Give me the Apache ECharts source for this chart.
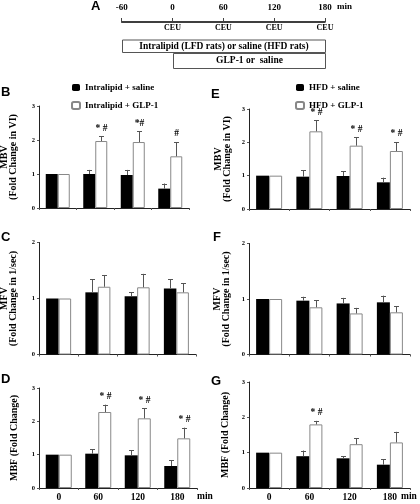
<!DOCTYPE html>
<html><head><meta charset="utf-8">
<script src="https://cdn.jsdelivr.net/npm/echarts@6/dist/echarts.min.js"></script>
<style>html,body{margin:0;padding:0;background:#fff}#c{width:420px;height:504px}</style>
</head><body><div id="c"></div>
<script>
// ---------- DATA ----------
const categories = ['0', '60', '120', '180'];

// Panel A timeline
const timelineTicks = [-60, 0, 60, 120, 180];
const ceuTimes = [0, 60, 120, 180];
const infusionLabels = ['Intralipid (LFD rats) or saline (HFD rats)', 'GLP-1 or  saline'];
const infusionStart = [-60, 0];
const infusionEnd = [180, 180];

// Panel B: MBV, Intralipid
const B_saline = [1.0, 1.0, 0.97, 0.57];
const B_saline_sem = [0, 0.12, 0.15, 0.15];
const B_glp = [1.0, 1.97, 1.94, 1.52];
const B_glp_sem = [0, 0.14, 0.32, 0.42];
const B_ann = ['', '* #', '*#', '#'];

// Panel C: MFV, Intralipid
const C_saline = [1.0, 1.11, 1.04, 1.18];
const C_saline_sem = [0, 0.23, 0.07, 0.16];
const C_glp = [1.0, 1.21, 1.20, 1.11];
const C_glp_sem = [0, 0.21, 0.24, 0.16];
const C_ann = ['', '', '', ''];

// Panel D: MBF, Intralipid
const D_saline = [1.0, 1.03, 0.98, 0.66];
const D_saline_sem = [0, 0.13, 0.15, 0.17];
const D_glp = [1.0, 2.28, 2.09, 1.49];
const D_glp_sem = [0, 0.22, 0.30, 0.32];
const D_ann = ['', '* #', '* #', '* #'];

// Panel E: MBV, HFD
const E_saline = [1.0, 0.97, 0.99, 0.80];
const E_saline_sem = [0, 0.19, 0.14, 0.14];
const E_glp = [1.0, 2.33, 1.90, 1.74];
const E_glp_sem = [0, 0.33, 0.25, 0.27];
const E_ann = ['', '* #', '* #', '* #'];

// Panel F: MFV, HFD
const F_saline = [1.0, 0.97, 0.92, 0.94];
const F_saline_sem = [0, 0.07, 0.10, 0.12];
const F_glp = [1.0, 0.85, 0.74, 0.76];
const F_glp_sem = [0, 0.13, 0.10, 0.11];
const F_ann = ['', '', '', ''];

// Panel G: MBF, HFD
const G_saline = [1.0, 0.90, 0.84, 0.66];
const G_saline_sem = [0, 0.16, 0.06, 0.16];
const G_glp = [1.0, 1.80, 1.24, 1.29];
const G_glp_sem = [0, 0.10, 0.17, 0.30];
const G_ann = ['', '* #', '', ''];

const yTicksMBV = [0, 1, 2, 3];
const yTicksMFV = [0, 1, 2];

// ---------- LAYOUT / STYLE ----------
const SERIF = 'Liberation Serif';
const SANS = 'Liberation Sans';

const panels = [
  {key:'B', left:39, top:106, width:150, height:102, barW:12, max:3, name:'MBV\n(Fold Change in VI)', gap:21, grp:'L',
   s:B_saline, ss:B_saline_sem, g:B_glp, gs:B_glp_sem, ann:B_ann, xl:false},
  {key:'C', left:39, top:242.5, width:157, height:112, barW:12.5, max:2, name:'MFV\n(Fold Change in 1/sec)', gap:21, grp:'L',
   s:C_saline, ss:C_saline_sem, g:C_glp, gs:C_glp_sem, ann:C_ann, xl:false},
  {key:'D', left:39, top:388, width:158, height:100, barW:13, max:3, name:'MBF (Fold Change)', gap:20, grp:'L',
   s:D_saline, ss:D_saline_sem, g:D_glp, gs:D_glp_sem, ann:D_ann, xl:true},
  {key:'E', left:249, top:109, width:161, height:100, barW:13, max:3, name:'MBV\n(Fold Change in VI)', gap:17, grp:'H',
   s:E_saline, ss:E_saline_sem, g:E_glp, gs:E_glp_sem, ann:E_ann, xl:false},
  {key:'F', left:249, top:243.5, width:161, height:111, barW:13, max:2, name:'MFV\n(Fold Change in 1/sec)', gap:18, grp:'H',
   s:F_saline, ss:F_saline_sem, g:F_glp, gs:F_glp_sem, ann:F_ann, xl:false},
  {key:'G', left:249, top:382, width:161, height:106, barW:13, max:3, name:'MBF (Fold Change)', gap:19, grp:'H',
   s:G_saline, ss:G_saline_sem, g:G_glp, gs:G_glp_sem, ann:G_ann, xl:true}
];

const names = {
  L: ['Intralipid + saline', 'Intralipid + GLP-1'],
  H: ['HFD + saline', 'HFD + GLP-1']
};

const grids = [], xAxes = [], yAxes = [], series = [];

function errRender(sign, barW, ann) {
  return function (params, api) {
    const i = api.value(0), m = api.value(1), s = api.value(2);
    const base = api.coord([i, m]);
    const top = api.coord([i, m + s]);
    const x = Math.round(base[0] + sign * barW / 2) + 0.5;
    const ch = [];
    if (s > 0) {
      ch.push({type:'line', shape:{x1:x, y1:base[1], x2:x, y2:top[1]}, style:{stroke:'#555', lineWidth:1}});
      ch.push({type:'line', shape:{x1:x-2.5, y1:Math.round(top[1])+0.5, x2:x+2.5, y2:Math.round(top[1])+0.5}, style:{stroke:'#555', lineWidth:1}});
    }
    const a = ann[params.dataIndex];
    if (a) {
      ch.push({type:'text', x:x, y:top[1]-3, style:{text:a, fill:'#000', font:'bold 9.5px "' + SERIF + '"', align:'center', verticalAlign:'bottom'}});
    }
    return {type:'group', children:ch};
  };
}

panels.forEach((p, k) => {
  grids.push({left:p.left, top:p.top, width:p.width, height:p.height, outerBoundsMode:'none', containLabel:false});
  xAxes.push({
    type:'category', gridIndex:k, data:categories,
    axisLine:{lineStyle:{color:'#222', width:1}},
    axisTick:{show:true, length:2, lineStyle:{color:'#555'}},
    axisLabel:{show:p.xl, color:'#000', fontFamily:SERIF, fontWeight:'bold', fontSize:9.5, margin:5}
  });
  const ticks = p.max === 3 ? yTicksMBV : yTicksMFV;
  yAxes.push({
    type:'value', gridIndex:k, min:ticks[0], max:ticks[ticks.length-1], interval:1,
    name:p.name, nameLocation:'middle', nameGap:p.gap, nameRotate:90,
    nameTextStyle:{color:'#000', fontFamily:SERIF, fontWeight:'bold', fontSize:10, lineHeight:9},
    axisLine:{show:true, lineStyle:{color:'#222', width:1}},
    axisTick:{show:true, length:2, lineStyle:{color:'#555'}},
    axisLabel:{color:'#000', fontFamily:SERIF, fontWeight:'bold', fontSize:6.5, margin:4},
    splitLine:{show:false}
  });
  const nm = names[p.grp];
  series.push({
    name:nm[0], type:'bar', xAxisIndex:k, yAxisIndex:k, data:p.s, barWidth:p.barW, barGap:'0%',
    itemStyle:{color:'#000'}, animation:false, silent:true
  });
  series.push({
    name:nm[1], type:'bar', xAxisIndex:k, yAxisIndex:k, data:p.g, barWidth:p.barW, barGap:'0%',
    itemStyle:{color:'#fff', borderColor:'#888', borderWidth:1}, animation:false, silent:true
  });
  series.push({
    type:'custom', xAxisIndex:k, yAxisIndex:k, renderItem:errRender(-1, p.barW, ['', '', '', '']),
    data:p.s.map((v, i) => [i, v, p.ss[i]]), animation:false, silent:true, z:3
  });
  series.push({
    type:'custom', xAxisIndex:k, yAxisIndex:k, renderItem:errRender(1, p.barW, p.ann),
    data:p.g.map((v, i) => [i, v, p.gs[i]]), animation:false, silent:true, z:3
  });
});

// ---- Timeline panel A ----
const tIdx = panels.length;
grids.push({left:121.7, top:22, width:203.3, height:47, outerBoundsMode:'none', containLabel:false});
xAxes.push({
  type:'value', gridIndex:tIdx, position:'top', min:-60, max:180, interval:60,
  axisLine:{show:true, lineStyle:{color:'#000', width:1.5}},
  axisTick:{show:true, length:4, lineStyle:{color:'#444'}},
  axisLabel:{color:'#000', fontFamily:SERIF, fontWeight:'bold', fontSize:9, margin:10,
             customValues:timelineTicks},
  splitLine:{show:false}
});
yAxes.push({type:'category', gridIndex:tIdx, data:['CEU'].concat(infusionLabels), inverse:true, show:false});
series.push({
  type:'custom', xAxisIndex:tIdx, yAxisIndex:tIdx, animation:false, silent:true,
  data:ceuTimes.map(t => [t, 0]),
  renderItem:function (params, api) {
    const c = api.coord([api.value(0), api.value(1)]);
    return {type:'text', x:c[0], y:c[1]-1.5, style:{text:'CEU', fill:'#000', font:'bold 8px "' + SERIF + '"', align:'center', verticalAlign:'middle'}};
  }
});
series.push({
  type:'custom', xAxisIndex:tIdx, yAxisIndex:tIdx, animation:false, silent:true,
  data:infusionLabels.map((l, i) => [infusionStart[i], infusionEnd[i], i + 1]),
  renderItem:function (params, api) {
    const row = api.value(2);
    const a = api.coord([api.value(0), row]);
    const b = api.coord([api.value(1), row]);
    const h = api.size([0, 1])[1];
    const y0 = Math.round(a[1] - h / 2) + 0.5 + (row === 1 ? 1.5 : 0);
    const y1 = Math.round(a[1] + h / 2) - 0.5;
    const x0 = Math.round(a[0]) + 0.5, x1 = Math.round(b[0]) + 0.5;
    return {type:'group', children:[
      {type:'rect', shape:{x:x0, y:y0, width:x1-x0, height:y1-y0}, style:{fill:'#fff', stroke:'#555', lineWidth:1}},
      {type:'text', x:(x0+x1)/2, y:(y0+y1)/2, style:{text:infusionLabels[params.dataIndex], fill:'#000', font:'bold 9.5px "' + SERIF + '"', align:'center', verticalAlign:'middle'}}
    ]};
  }
});

const letterStyle = {color:'#000', fontFamily:SANS, fontWeight:'bold', fontSize:13};
const titles = [
  ['A', 91, 0], ['B', 1, 86], ['C', 1, 231], ['D', 1, 373],
  ['E', 211, 88], ['F', 213, 231], ['G', 211, 375]
].map(t => ({text:t[0], left:t[1], top:t[2], padding:0, textStyle:letterStyle}));

const legendText = {color:'#000', fontFamily:SERIF, fontWeight:'bold', fontSize:9};
const option = {
  animation:false,
  backgroundColor:'#fff',
  title:titles,
  legend:[
    {data:names.L, orient:'vertical', left:71, top:83, itemWidth:8, itemHeight:7, itemGap:9, textStyle:legendText, padding:0, selectedMode:false},
    {data:names.H, orient:'vertical', left:295, top:83, itemWidth:8, itemHeight:7, itemGap:9, textStyle:legendText, padding:0, selectedMode:false}
  ],
  grid:grids, xAxis:xAxes, yAxis:yAxes, series:series,
  graphic:[
    {type:'text', left:337, top:2, style:{text:'min', fill:'#000', font:'bold 9px "' + SERIF + '"'}},
    {type:'text', left:197, top:492, style:{text:'min', fill:'#000', font:'bold 9.5px "' + SERIF + '"'}},
    {type:'text', left:401, top:492, style:{text:'min', fill:'#000', font:'bold 9.5px "' + SERIF + '"'}}
  ]
};
const chart = echarts.init(document.getElementById('c'), null, {renderer:'canvas'});
chart.setOption(option);
</script></body></html>
